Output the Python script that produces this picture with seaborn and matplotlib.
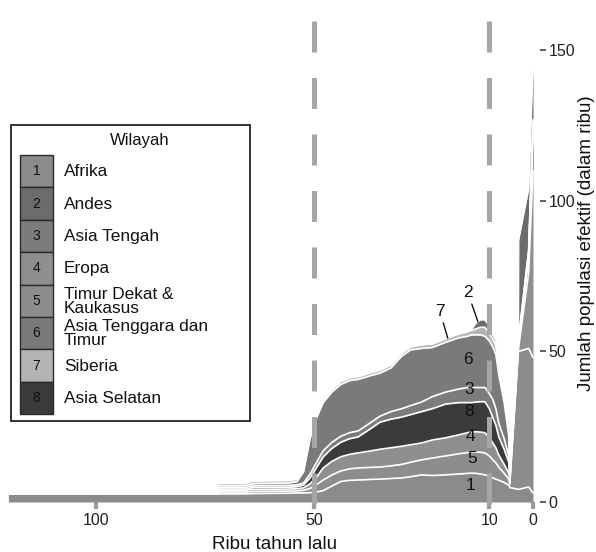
import numpy as np
import pandas as pd
import matplotlib
matplotlib.use("Agg")
import matplotlib.pyplot as plt
import seaborn as sns
from matplotlib.patches import Rectangle

sns.set_theme(style="white")
plt.rcParams["font.family"] = ["Liberation Sans", "DejaVu Sans"]

# Time axis: thousands of years before present
years_ago = [120, 72.1, 72, 66, 64, 56, 54, 52.5, 51, 49.5, 48, 46, 44, 42, 40,
             37, 35, 32.5, 30, 28, 25.5, 23, 20, 17, 15, 14, 13, 12, 11, 10,
             9.2, 8.5, 7.8, 6.6, 5.5, 5.3, 3.35, 3.3, 1, 0]

# Effective population size per region (thousands)
afrika = [2.6, 2.7, 2.7, 2.7, 2.8, 2.9, 3.0, 3.0, 3.1, 3.3, 3.8, 5.3, 6.8, 7.2, 7.3,
          7.5, 7.6, 7.8, 8.0, 8.4, 9.0, 8.8, 9.0, 9.3, 9.5, 9.6, 9.5, 9.3, 9.0, 8.6,
          8.0, 7.6, 7.2, 6.5, 5.5, 4.8, 4.2, 4.2, 5.0, 3.0]
timur_dekat = [0, 0, 0.6, 0.6, 0.7, 0.7, 0.7, 0.9, 1.4, 2.5, 3.5, 3.7, 3.5, 3.8, 4.0,
               4.0, 4.0, 4.2, 4.5, 4.8, 5.0, 5.8, 6.3, 6.7, 6.9, 7.0, 7.1, 7.2, 7.3, 6.7,
               6.0, 5.4, 4.3, 3.0, 2.0, 1.2, 45.8, 45.8, 46.0, 45.0]
eropa = [0, 0, 0.5, 0.5, 0.7, 0.7, 0.7, 0.8, 1.5, 2.5, 4.0, 4.5, 4.7, 4.8, 5.0,
         5.5, 5.9, 6.0, 6.0, 5.8, 5.6, 6.0, 6.0, 6.3, 6.6, 6.7, 6.7, 6.7, 6.7, 6.2,
         5.6, 5.0, 4.0, 3.0, 2.0, 0.8, 1.0, 1.0, 25.0, 62.0]
asia_selatan = [0, 0, 0.5, 0.5, 0.6, 0.6, 0.7, 0.9, 2.0, 3.2, 3.7, 4.3, 4.8, 5.2, 5.3,
                7.5, 9.0, 9.5, 9.7, 10.0, 10.4, 10.4, 11.2, 10.7, 10.0, 9.7, 9.9, 10.1, 10.3, 9.5,
                8.4, 7.5, 6.0, 5.0, 3.5, 1.2, 1.5, 1.5, 5.0, 12.0]
asia_tengah = [0, 0, 0.5, 0.5, 0.6, 0.6, 0.6, 0.7, 1.3, 1.7, 2.0, 2.0, 2.0, 2.0, 2.0,
               2.0, 2.0, 2.5, 2.8, 3.0, 3.2, 4.0, 4.0, 4.5, 5.0, 5.0, 4.8, 4.7, 4.7, 5.0,
               6.0, 5.5, 4.5, 3.5, 2.0, 0.6, 0.8, 0.8, 1.0, 2.0]
asia_tenggara = [0, 0, 0.6, 0.6, 0.7, 0.8, 1.1, 3.7, 11.7, 14.8, 16.0, 16.7, 17.2, 17.3, 17.1,
                 15.5, 14.3, 14.5, 17.5, 18.5, 17.8, 16.3, 16.5, 17.0, 17.0, 17.5, 17.5, 17.5, 17.0, 17.5,
                 17.5, 18.0, 16.0, 12.0, 6.5, 0.6, 0.7, 0.7, 1.0, 2.0]
siberia = [0, 0, 0.8, 0.8, 0.9, 0.9, 0.8, 0.8, 1.0, 1.0, 1.0, 1.0, 1.0, 0.9, 0.9,
           1.0, 1.0, 1.0, 1.0, 1.0, 1.2, 1.2, 1.2, 1.3, 1.5, 1.5, 2.0, 2.5, 3.0, 2.5,
           2.5, 3.0, 2.0, 2.0, 1.5, 0.2, 0.5, 0.5, 0.5, 1.0]
andes = [0, 0, 0, 0, 0, 0, 0, 0, 0, 0, 0, 0, 0, 0, 0,
         0, 0, 0, 0, 0, 0, 0, 0, 0, 0, 0.5, 2.0, 2.5, 2.5, 2.5,
         1.5, 1.5, 1.0, 1.0, 1.0, 0.2, 0.0, 32.5, 20.5, 18.0]

# Legend order (numbered) and fill colours
regions = ["Afrika", "Andes", "Asia Tengah", "Eropa", "Timur Dekat &\nKaukasus",
           "Asia Tenggara dan\nTimur", "Siberia", "Asia Selatan"]
region_numbers = ["1", "2", "3", "4", "5", "6", "7", "8"]
region_colors = ["#8b8b8b", "#6c6c6c", "#7c7c7c", "#8f8f8f", "#8d8d8d",
                 "#7a7a7a", "#b4b4b4", "#3b3b3b"]

series = {
    "Afrika": afrika,
    "Andes": andes,
    "Asia Tengah": asia_tengah,
    "Eropa": eropa,
    "Timur Dekat &\nKaukasus": timur_dekat,
    "Asia Tenggara dan\nTimur": asia_tenggara,
    "Siberia": siberia,
    "Asia Selatan": asia_selatan,
}
# Bottom-to-top stacking order
stack_order = ["Afrika", "Timur Dekat &\nKaukasus", "Eropa", "Asia Selatan",
               "Asia Tengah", "Asia Tenggara dan\nTimur", "Siberia", "Andes"]
color_of = dict(zip(regions, region_colors))
number_of = dict(zip(regions, region_numbers))

wide = pd.DataFrame(series)
wide["t"] = years_ago
cum = wide[stack_order].cumsum(axis=1)
cum["t"] = years_ago

fig = plt.figure(figsize=(5.96, 5.52), dpi=100)
ax = fig.add_axes([8 / 596, 1 - 502 / 552, 532 / 596, 488 / 552])

lower = np.zeros(len(years_ago))
for reg in stack_order:
    upper = cum[reg].to_numpy()
    ax.fill_between(years_ago, lower, upper, color=color_of[reg], lw=0, zorder=1)
    lower = upper

long = cum.melt(id_vars="t", var_name="region", value_name="top")
sns.lineplot(data=long, x="t", y="top", hue="region",
             palette={r: "white" for r in stack_order}, legend=False,
             estimator=None, sort=False, lw=1.2, ax=ax, zorder=2)

# Dashed reference lines at 50 and 10 thousand years ago
for xv in (50, 10):
    ax.plot([xv, xv], [0.9857, -0.0085], transform=ax.get_xaxis_transform(),
            color="#a6a6a6", lw=3.6, dashes=(6.2, 5.1), solid_capstyle="butt",
            dash_capstyle="butt", clip_on=False, zorder=3)

ax.set_xlim(120.1, -1.6)
ax.set_ylim(0, 162)
for s in ax.spines.values():
    s.set_visible(False)

ax.set_xticks([100, 50, 10, 0])
ax.set_xticklabels(["100", "50", "10", "0"])
ax.tick_params(axis="x", bottom=True, length=5, width=3, color="#9a9a9a",
               labelsize=11.5, labelcolor="#222222", pad=3)
ax.yaxis.tick_right()
ax.yaxis.set_label_position("right")
ax.set_yticks([0, 50, 100, 150])
ax.tick_params(axis="y", right=True, left=False, length=4, width=1.2,
               color="#444444", labelsize=11.5, labelcolor="#222222", pad=2)
ax.set_xlabel("Ribu tahun lalu", fontsize=13.5, color="#111111", labelpad=6)
ax.set_ylabel("Jumlah populasi efektif (dalam ribu)", fontsize=13.5,
              color="#111111", rotation=90)
ax.yaxis.label.set_verticalalignment("center")
ax.yaxis.set_label_coords(1.088, 0.53)
ax.set_facecolor("none")
ax.grid(False)

# Numbered layer labels
for txt, (xx, yy) in {"6": (14.9, 47.2), "3": (14.6, 37.2), "8": (14.6, 29.9),
                      "4": (14.2, 21.6), "5": (14.0, 14.6), "1": (14.2, 5.6)}.items():
    ax.text(xx, yy, txt, ha="center", va="center", fontsize=12.5, color="#111111", zorder=4)
ax.annotate("7", xy=(19.5, 54.4), xytext=(21.3, 63.3), ha="center", va="center",
            fontsize=12.5, color="#111111", zorder=4,
            arrowprops=dict(arrowstyle="-", color="#111111", lw=1.0, shrinkA=0.5, shrinkB=0))
ax.annotate("2", xy=(12.6, 59.8), xytext=(14.9, 69.5), ha="center", va="center",
            fontsize=12.5, color="#111111", zorder=4,
            arrowprops=dict(arrowstyle="-", color="#111111", lw=1.0, shrinkA=0.5, shrinkB=0))

# Legend panel
lax = fig.add_axes([10 / 596, 1 - 422 / 552, 241 / 596, 298 / 552])
lax.set_xlim(0, 241)
lax.set_ylim(298, 0)
lax.axis("off")
lax.add_patch(Rectangle((0.7, 0.7), 239.6, 296.6, fill=False, ec="#333333", lw=1.4))
lax.text(130, 16, "Wilayah", ha="center", va="center", fontsize=12, color="#111111")
row_h = 32.4
for i, reg in enumerate(regions):
    y0 = 31 + i * row_h
    lax.add_patch(Rectangle((10, y0), 33, row_h, facecolor=color_of[reg],
                            edgecolor="#2a2a2a", lw=1.0))
    lax.text(26.5, y0 + row_h / 2, number_of[reg], ha="center", va="center",
             fontsize=10, color="#111111")
    lax.text(54, y0 + row_h / 2 + 0.5, reg, ha="left", va="center",
             fontsize=12.4, color="#111111", linespacing=0.93)

fig.savefig("out.png", dpi=100, facecolor="white")
